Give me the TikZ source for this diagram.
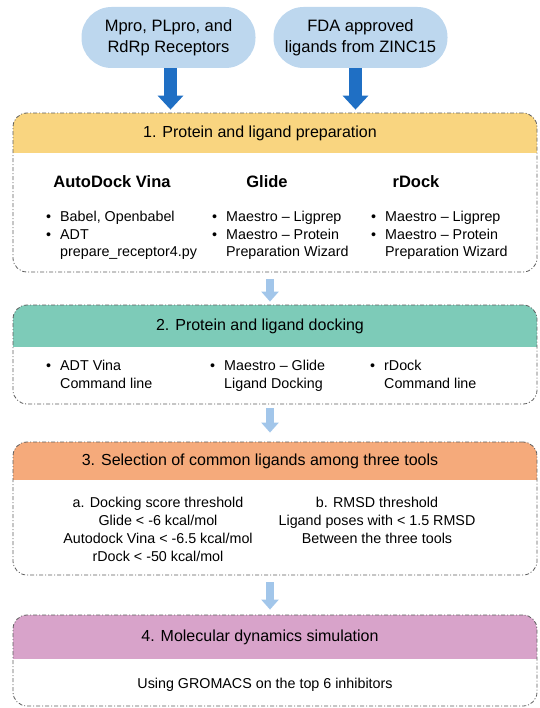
\documentclass[tikz,border=0pt]{standalone}
\usepackage{fontspec}
\setmainfont{Liberation Sans}
\usetikzlibrary{positioning}
\usetikzlibrary{arrows.meta}

\definecolor{pillblue}{HTML}{BDD7EE}
\definecolor{darkarrow}{HTML}{1F6FC4}
\definecolor{lightarrow}{HTML}{A2C6EA}
\definecolor{prepyellow}{HTML}{F9D580}
\definecolor{dockgreen}{HTML}{7DCBB8}
\definecolor{selorange}{HTML}{F5AA7B}
\definecolor{mdpink}{HTML}{D8A3CA}
\definecolor{boxline}{HTML}{5E5E5E}

\newcommand{\bl}{\makebox[14pt][l]{\textbullet}}
\newcommand{\nb}{\hspace*{14pt}}

\tikzset{
 pill/.style={fill=pillblue, rounded corners=30pt, minimum width=174pt, minimum height=61pt, align=center, font=\fontsize{16.5}{21}\selectfont},
 stage/.style={draw=boxline, line width=0.8pt, dash pattern=on 4pt off 2pt on 1pt off 2pt, rounded corners=14pt, minimum width=524pt, inner sep=0pt},
 band/.style 2 args={path picture={\fill[#1, sharp corners] (path picture bounding box.north west) rectangle ([yshift=-#2]path picture bounding box.north east);}},
 head/.style={font=\fontsize{16}{19}\selectfont},
 tool/.style={font=\bfseries\fontsize{16.5}{19}\selectfont},
 items/.style={anchor=north west, align=left, inner sep=0pt, font=\fontsize{14.3}{17.5}\selectfont},
 crit/.style={anchor=north, align=center, inner sep=0pt, font=\fontsize{14.3}{18}\selectfont},
 body/.style={font=\fontsize{14.3}{17}\selectfont},
 bigflow/.style={darkarrow, line width=13pt, -{Triangle[width=25pt,length=14pt]}},
 flow/.style={lightarrow, line width=8pt, -{Triangle[width=17pt,length=10pt]}}
}

\begin{document}
\begin{tikzpicture}[x=1pt,y=-1pt]
 \useasboundingbox (0,0) rectangle (539,708);

 \node[pill] (mpro) at (168.5,37.5) {Mpro, PLpro, and\\RdRp Receptors};
 \node[pill] (zinc) at (360.5,37.5) {FDA approved\\ligands from ZINC15};

 \node[stage, band={prepyellow}{40pt}, minimum height=159pt] (prep) at (275,192.5) {};
 \node[stage, band={dockgreen}{42pt}, minimum height=99pt] (dock) at (275,354.5) {};
 \node[stage, band={selorange}{38pt}, minimum height=133pt] (select) at (275,508.5) {};
 \node[stage, band={mdpink}{44pt}, minimum height=91pt] (md) at (275,660.5) {};

 \node[head] (prephead) at (260,133) {1. Protein and ligand preparation};
 \node[head] (dockhead) at (260,326) {2. Protein and ligand docking};
 \node[head] (selhead) at (260,461) {3. Selection of common ligands among three tools};
 \node[head] (mdhead) at (260,637) {4. Molecular dynamics simulation};

 \node[tool] (vina) at (112,182) {AutoDock Vina};
 \node[tool] (glide) at (267,182) {Glide};
 \node[tool] (rdock) at (416,182) {rDock};

 \node[items] (vinaprep) at (46,211) {\bl Babel, Openbabel\\ \bl ADT\\ \nb prepare\_receptor4.py};
 \node[items] (glideprep) at (212,211) {\bl Maestro -- Ligprep\\ \bl Maestro -- Protein\\ \nb Preparation Wizard};
 \node[items] (rdockprep) at (371,211) {\bl Maestro -- Ligprep\\ \bl Maestro -- Protein\\ \nb Preparation Wizard};

 \node[items] (vinadock) at (46,360) {\bl ADT Vina\\ \nb Command line};
 \node[items] (glidedock) at (210,360) {\bl Maestro -- Glide\\ \nb Ligand Docking};
 \node[items] (rdockdock) at (370,360) {\bl rDock\\ \nb Command line};

 \node[crit] (score) at (158,497) {a. Docking score threshold\\ Glide < -6 kcal/mol\\ Autodock Vina < -6.5 kcal/mol\\ rDock < -50 kcal/mol};
 \node[crit] (rmsd) at (377,497) {b. RMSD threshold\\ Ligand poses with < 1.5 RMSD\\ Between the three tools};

 \node[body] (gromacs) at (265,685) {Using GROMACS on the top 6 inhibitors};

 \draw[bigflow, shorten >=3pt] ([xshift=2pt]mpro.south) -- ([xshift=2pt]mpro.south |- prep.north);
 \draw[bigflow, shorten >=3pt] ([xshift=-5pt]zinc.south) -- ([xshift=-5pt]zinc.south |- prep.north);
 \draw[flow, shorten <=7pt, shorten >=3pt] ([xshift=-5pt]prep.south) -- ([xshift=-5pt]dock.north);
 \draw[flow, shorten <=4pt, shorten >=9pt] ([xshift=-5pt]dock.south) -- ([xshift=-5pt]select.north);
 \draw[flow, shorten <=7pt, shorten >=5pt] ([xshift=-5pt]select.south) -- ([xshift=-5pt]md.north);
\end{tikzpicture}
\end{document}
